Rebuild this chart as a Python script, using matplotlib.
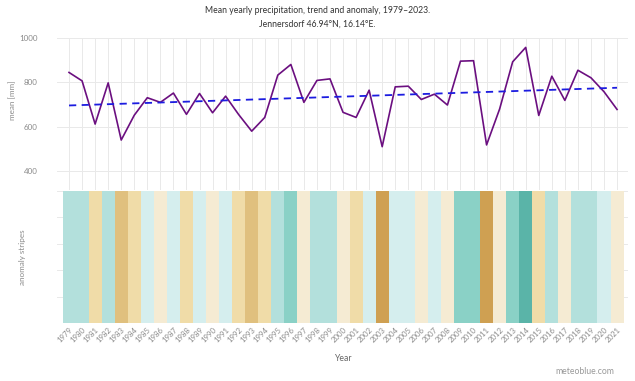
import numpy as np
import matplotlib
matplotlib.use('Agg')
import matplotlib.pyplot as plt
from matplotlib.colors import ListedColormap, BoundaryNorm

# data
years = list(range(1979, 2022))
precip = [845, 807, 612, 798, 540, 652, 731, 710, 752, 656,
          750, 663, 738, 655, 580, 642, 833, 881, 710, 809,
          816, 665, 642, 765, 510, 780, 783, 723, 747, 698,
          896, 898, 518, 680, 893, 958, 651, 828, 719, 855,
          821, 758, 678]
trend_ends = [696, 776]          # trend at 1979 and 2021
stripe_edges = [0, 520, 589, 658, 727, 796, 865, 934, 2000]
stripe_colors = ['#CFA052', '#E0C07E', '#F0DCA8', '#F5EBD3',
                 '#D5EEEE', '#B3E0DC', '#8AD1C6', '#5AB4A8']

title = 'Mean yearly precipitation, trend and anomaly, 1979\u20132023.'
subtitle = 'Jennersdorf 46.94\u00b0N, 16.14\u00b0E.'

plt.rcParams['font.family'] = ['Lato', 'DejaVu Sans']
grey = '#8a8a8a'
gridc = '#e9e9e9'

fig = plt.figure(figsize=(6.35, 3.81), dpi=100)
L, R = 0.0898, 0.989
ax1 = fig.add_axes([L, 0.501, R - L, 0.399])
ax2 = fig.add_axes([L, 0.152, R - L, 0.347], sharex=ax1)

x = np.arange(len(years))
ax1.plot(x, precip, color='#6b0f80', lw=1.2, zorder=3)
ax1.plot([x[0], x[-1]], trend_ends, color='#1c1ce0', lw=1.3,
         ls=(0, (4, 3)), zorder=4)
ax1.set_ylim(314, 1000)
ax1.set_yticks([400, 600, 800, 1000])
ax1.set_xlim(-0.92, len(years) - 1 + 0.84)
ax1.grid(True, color=gridc, lw=0.7)
ax1.set_axisbelow(True)
ax1.tick_params(axis='y', length=0, labelsize=5.8, labelcolor=grey, pad=14)
ax1.tick_params(axis='x', length=0, labelbottom=False)
ax1.set_ylabel('mean [mm]', fontsize=5.8, color=grey)
ax1.yaxis.set_label_coords(-0.072, 0.59)

norm = BoundaryNorm(stripe_edges, len(stripe_colors))
cmap = ListedColormap(stripe_colors)
ax2.bar(x, 1, width=1.0, color=cmap(norm(precip)), zorder=3)
ax2.set_ylim(0, 1)
ax2.set_yticks(np.linspace(0, 1, 6))
ax2.grid(True, color=gridc, lw=0.7)
ax2.set_axisbelow(True)
ax2.tick_params(axis='y', length=0, labelleft=False)
ax2.tick_params(axis='x', length=0, labelsize=5.6, labelcolor=grey, pad=2)
ax2.set_xticks(x)
ax2.set_xticklabels([str(y) for y in years], rotation=45, ha='right',
                    rotation_mode='anchor')
ax2.set_ylabel('anomaly stripes', fontsize=5.8, color=grey)
ax2.yaxis.set_label_coords(-0.055, 0.5)
ax2.set_xlabel('Year', fontsize=6.2, color='#666666')
ax2.xaxis.set_label_coords(0.5, -0.235)

for ax in (ax1, ax2):
    for s in ax.spines.values():
        s.set_visible(False)

fig.text(0.5, 0.973, title, ha='center', va='center', fontsize=6.2, color='#333333')
fig.text(0.5, 0.937, subtitle, ha='center', va='center', fontsize=6.2, color='#333333')
fig.text(0.968, 0.024, 'meteoblue.com', ha='right', va='center', fontsize=6.2, color='#999999')

fig.savefig('out.png', dpi=100)
